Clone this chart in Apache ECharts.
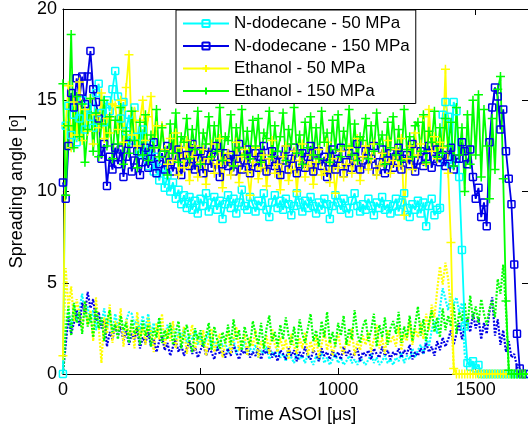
<!DOCTYPE html>
<html>
<head>
<meta charset="utf-8">
<script src="https://cdn.jsdelivr.net/npm/echarts@6/dist/echarts.min.js"></script>
<style>
  html, body { margin: 0; padding: 0; background: #fff; }
  #chart { width: 528px; height: 429px; }
</style>
</head>
<body>
<div id="chart"></div>
<script>
// sample spacing of all curves, in µs (first sample at t = 0)
const sampleStep = 10

const seriesNames = ['N-dodecane - 50 MPa', 'N-dodecane - 150 MPa', 'Ethanol - 50 MPa', 'Ethanol - 150 MPa']
const xTicks = [0, 500, 1000, 1500]
const yTicks = [0, 5, 10, 15, 20]

// spreading angle (solid lines with markers)
const dodecane50 = [
  0, 13.6, 14.7, 13.1, 14.2, 12.7, 14.0, 15.0, 13.4, 14.6,
  14.1, 13.5, 15.4, 15.9, 14.3, 13.8, 15.0, 14.4, 15.6, 16.6,
  15.2, 14.0, 14.9, 13.3, 14.2, 12.8, 14.6, 13.0, 12.1, 13.4,
  12.0, 11.4, 12.6, 11.1, 11.9, 10.6, 11.3, 10.2, 10.9, 10.0,
  10.5, 9.6, 10.1, 9.3, 9.8, 9.1, 9.7, 9.0, 9.5, 8.8,
  9.6, 9.2, 9.9, 8.9, 9.4, 9.7, 9.0, 9.5, 8.5, 9.3,
  9.8, 9.1, 9.6, 8.8, 9.4, 10.1, 9.2, 9.0, 9.7, 9.3,
  8.9, 9.5, 9.2, 9.9, 9.0, 8.6, 9.4, 9.8, 9.1, 9.5,
  9.0, 9.6, 9.3, 8.7, 9.2, 9.9, 9.4, 8.9, 9.5, 9.1,
  9.7, 9.2, 8.8, 9.4, 9.0, 9.6, 9.3, 8.5, 9.2, 9.8,
  9.4, 9.0, 9.6, 9.1, 8.8, 9.5, 9.9, 9.2, 8.9, 9.3,
  9.0, 9.6, 9.2, 8.7, 9.4, 9.1, 9.7, 9.0, 9.3, 8.8,
  9.2, 9.6, 8.9, 9.4, 9.9, 9.1, 8.6, 9.3, 9.0, 9.5,
  8.8, 9.4, 8.1, 9.2, 9.6, 8.7, 9.0, 9.1, 14.2, 14.9,
  14.1, 11.5, 14.9, 14.4, 10.8, 6.8, 2.6, 0.6, 0.4, 0.7,
  0.3, 0.5, 0, 0, 0, 0, 0, 0, 0, 0,
  0, 0, 0, 0, 0, 0, 0, 0, 0
]
const dodecane150 = [
  10.5, 9.6, 12.5, 15.4, 14.6, 16.2, 15.1, 16.3, 14.8, 16.3,
  17.7, 15.6, 14.9, 14.0, 11.8, 12.6, 10.3, 11.9, 11.2, 12.4,
  11.5, 12.3, 10.8, 11.9, 12.6, 11.1, 11.7, 12.2, 10.9, 11.6,
  12.4, 11.3, 11.8, 12.7, 11.0, 11.5, 12.1, 11.2, 12.5, 11.6,
  11.1, 11.9, 12.3, 10.9, 11.6, 12.0, 11.4, 12.6, 11.2, 11.8,
  12.2, 11.0, 11.7, 12.4, 11.3, 11.9, 12.5, 10.8, 11.5, 12.1,
  11.4, 12.0, 11.1, 11.8, 12.6, 11.2, 11.7, 12.3, 11.0, 11.6,
  12.1, 11.3, 11.9, 12.5, 11.1, 11.6, 12.2, 11.4, 12.0, 10.9,
  11.7, 12.3, 11.2, 11.8, 12.4, 11.0, 11.5, 12.1, 11.3, 11.9,
  12.5, 11.1, 11.7, 12.2, 11.4, 11.9, 10.8, 11.6, 12.3, 11.2,
  11.8, 12.4, 11.0, 11.6, 12.1, 11.3, 11.9, 12.6, 11.2, 11.7,
  12.2, 11.4, 11.8, 12.5, 11.1, 11.6, 12.3, 11.0, 11.7, 12.1,
  11.3, 11.9, 12.4, 11.2, 11.8, 12.0, 11.5, 12.6, 11.1, 11.7,
  12.2, 11.4, 11.9, 12.5, 11.3, 11.8, 12.3, 11.6, 12.0, 11.4,
  11.9, 12.4, 11.2, 11.8, 11.8, 12.7, 12.2, 11.5, 12.3, 10.8,
  9.6, 10.2, 8.6, 9.4, 8.1, 12.7, 14.6, 15.7, 15.2, 13.4,
  14.5, 12.2, 10.7, 9.3, 6.0, 2.2, 0.3, 0, 0
]
const ethanol50 = [
  1.0, 13.6, 15.8, 12.4, 14.9, 13.1, 16.0, 12.8, 14.5, 13.3,
  15.1, 12.6, 14.2, 13.5, 15.4, 12.9, 14.0, 13.2, 14.8, 14.7,
  13.4, 15.0, 12.7, 15.7, 17.5, 13.1, 14.4, 12.5, 13.9, 15.0,
  12.8, 14.1, 15.2, 12.4, 13.6, 11.9, 13.6, 12.3, 11.5, 12.9,
  11.7, 13.2, 10.9, 12.4, 11.3, 12.8, 10.6, 11.9, 12.5, 10.8,
  11.6, 12.3, 10.4, 11.8, 12.6, 11.0, 11.5, 12.9, 10.2, 11.7,
  12.1, 10.9, 11.4, 12.7, 10.5, 11.9, 12.3, 11.1, 9.8, 11.6,
  12.4, 10.7, 11.3, 12.0, 10.3, 11.8, 12.8, 11.0, 11.5, 10.1,
  11.9, 12.5, 10.6, 11.2, 12.2, 10.0, 11.7, 12.6, 10.8, 11.4,
  12.0, 10.4, 11.6, 12.3, 10.9, 11.1, 12.7, 10.5, 11.8, 9.9,
  11.3, 12.2, 10.8, 11.5, 12.4, 11.0, 11.7, 12.9, 10.6, 11.9,
  12.5, 11.2, 11.8, 12.6, 10.9, 11.4, 12.1, 11.6, 12.8, 11.0,
  11.7, 12.3, 11.4, 12.9, 8.7, 11.8, 12.5, 11.2, 13.2, 12.0,
  12.6, 14.1, 11.5, 14.5, 12.2, 13.0, 11.8, 12.7, 12.4, 16.7,
  11.0, 7.2, 0.3, 0, 0, 0, 0, 0, 0, 0,
  0, 0, 0, 0, 0, 0, 0, 0, 0, 0,
  0, 0, 0, 0, 0, 0, 0, 0, 0
]
const ethanol150 = [
  15.9, 9.8, 13.6, 18.6, 12.4, 15.2, 13.0, 14.8, 11.6, 13.4,
  15.1, 12.2, 14.3, 11.9, 13.7, 15.0, 12.5, 14.1, 11.8, 13.9,
  12.6, 14.6, 11.5, 13.3, 12.1, 14.4, 12.8, 11.3, 13.8, 12.0,
  14.2, 11.7, 13.1, 12.4, 14.5, 11.9, 13.5, 12.2, 10.9, 13.7,
  12.1, 14.3, 11.6, 13.0, 12.7, 14.0, 11.8, 13.4, 12.3, 14.4,
  11.5, 13.2, 12.6, 14.1, 11.9, 13.6, 12.2, 14.6, 11.7, 13.0,
  12.8, 14.2, 11.4, 13.5, 12.4, 14.5, 12.0, 13.3, 11.8, 13.9,
  12.5, 14.0, 11.6, 13.2, 12.9, 14.4, 11.9, 13.6, 12.2, 13.0,
  14.3, 11.7, 13.4, 12.6, 14.6, 12.1, 13.1, 11.5, 13.8, 12.4,
  14.1, 12.0, 13.5, 11.8, 14.4, 12.7, 13.2, 11.6, 13.9, 12.3,
  14.2, 11.9, 13.3, 12.5, 14.5, 12.0, 13.7, 11.7, 13.0, 12.8,
  14.0, 11.8, 13.6, 12.2, 14.3, 12.6, 13.1, 11.5, 13.8, 12.4,
  14.1, 12.0, 13.4, 11.7, 14.5, 12.3, 13.0, 11.9, 13.6, 13.8,
  12.2, 14.2, 11.6, 13.3, 12.7, 14.4, 11.9, 13.5, 12.1, 14.0,
  12.5, 13.8, 11.4, 14.6, 12.0, 13.5, 10.0, 14.2, 11.5, 15.0,
  12.0, 15.3, 10.8, 14.5, 12.5, 9.6, 14.0, 11.2, 15.6, 16.3,
  10.7, 4.0, 0.2, 0, 0, 0, 0, 0, 0
]

// lower band (dotted lines)
const dodecane50Low = [
  0, 2.1, 3.4, 2.6, 3.8, 2.9, 3.5, 4.4, 3.1, 3.7,
  2.8, 3.5, 2.4, 3.2, 2.7, 3.6, 2.5, 3.0, 2.2, 3.3,
  2.6, 3.1, 2.3, 2.9, 3.4, 3.3, 2.7, 3.0, 2.4, 3.2,
  2.5, 3.3, 2.2, 2.8, 2.1, 3.0, 2.4, 1.9, 2.7, 2.2,
  2.6, 1.8, 2.3, 2.0, 2.5, 1.7, 2.2, 1.9, 2.4, 1.6,
  2.1, 1.5, 1.9, 2.3, 1.4, 1.8, 1.3, 2.0, 1.5, 1.7,
  1.2, 1.6, 1.9, 1.1, 1.5, 1.3, 1.8, 1.0, 1.4, 1.2,
  1.6, 0.9, 1.3, 1.1, 1.5, 0.8, 1.2, 1.0, 1.4, 0.9,
  1.1, 0.7, 1.3, 0.9, 0.6, 1.2, 0.8, 1.0, 0.6, 1.1,
  0.8, 0.5, 1.0, 0.7, 1.2, 0.6, 0.9, 0.5, 0.8, 1.1,
  0.6, 0.9, 0.5, 0.7, 1.0, 0.6, 0.8, 0.5, 0.9, 0.7,
  0.5, 0.8, 1.1, 0.6, 0.9, 0.5, 0.7, 1.0, 0.6, 0.8,
  0.5, 0.9, 0.7, 1.2, 0.6, 1.0, 0.8, 1.4, 0.9, 1.3,
  1.6, 1.1, 2.0, 1.5, 2.4, 2.9, 2.2, 3.6, 4.7, 4.1,
  3.5, 4.4, 3.8, 4.2, 3.4, 3.9, 1.1, 0.6, 0.8, 0.5,
  0.3, 0, 0, 0, 0, 0, 0, 0, 0, 0,
  0, 0, 0, 0, 0, 0, 0, 0, 0
]
const dodecane150Low = [
  0, 1.6, 3.1, 2.2, 2.8, 3.5, 2.6, 3.9, 3.3, 4.5,
  3.6, 4.1, 2.9, 3.4, 2.5, 3.0, 1.5, 2.3, 1.9, 2.7,
  2.1, 2.6, 1.8, 2.4, 1.6, 2.2, 1.9, 2.5, 1.4, 2.0,
  1.7, 2.3, 1.5, 1.9, 1.2, 1.8, 2.1, 1.3, 1.7, 1.0,
  1.5, 1.9, 1.2, 1.6, 1.0, 1.4, 1.8, 1.1, 1.5, 0.9,
  1.3, 1.7, 1.0, 1.4, 1.2, 0.8, 1.5, 1.1, 1.3, 0.9,
  1.4, 1.0, 1.6, 1.2, 0.8, 1.3, 1.1, 1.5, 0.9, 1.2,
  1.0, 1.4, 0.8, 1.3, 1.1, 1.5, 0.9, 1.2, 0.7, 1.3,
  1.1, 0.8, 1.4, 1.0, 1.3, 0.7, 1.2, 0.9, 1.5, 1.0,
  0.8, 1.3, 1.1, 0.7, 1.4, 1.0, 1.2, 0.8, 1.3, 0.9,
  1.2, 0.8, 1.5, 1.0, 1.3, 0.9, 1.1, 1.4, 0.7, 1.2,
  1.0, 1.3, 0.8, 1.4, 1.1, 0.9, 1.5, 1.0, 1.3, 0.8,
  1.2, 1.0, 1.4, 0.9, 1.3, 1.1, 1.6, 0.8, 1.2, 1.0,
  1.4, 1.1, 1.7, 1.2, 1.5, 1.0, 1.8, 1.3, 2.0, 1.5,
  1.9, 2.4, 1.6, 2.2, 2.8, 1.9, 2.6, 3.0, 2.3, 3.3,
  2.5, 3.1, 1.9, 2.8, 2.2, 3.4, 4.2, 2.1, 3.0, 1.6,
  2.4, 1.2, 1.8, 0.9, 1.1, 0.4, 0.1, 0, 0
]
const ethanol50Low = [
  0, 5.8, 3.6, 4.8, 2.9, 4.1, 3.3, 2.4, 3.9, 2.7,
  3.5, 1.8, 4.2, 2.6, 0.6, 3.1, 2.2, 3.8, 1.7, 2.9,
  2.4, 3.6, 1.5, 3.0, 2.1, 2.7, 1.4, 3.4, 2.0, 2.6,
  1.6, 3.1, 2.3, 1.2, 2.8, 1.9, 3.3, 1.5, 2.5, 1.8,
  2.9, 1.4, 2.2, 1.7, 2.6, 1.1, 2.0, 2.7, 1.3, 2.1,
  1.6, 2.4, 1.0, 1.9, 2.5, 1.2, 1.8, 2.2, 0.9, 1.7,
  2.3, 1.1, 1.9, 2.6, 1.3, 1.7, 2.2, 1.0, 2.0, 1.5,
  2.4, 0.9, 1.8, 1.4, 2.1, 1.1, 2.5, 1.6, 1.2, 2.0,
  1.3, 1.9, 0.8, 2.2, 1.5, 1.1, 2.0, 1.4, 2.3, 1.0,
  1.8, 1.2, 2.1, 0.9, 1.6, 2.4, 1.3, 1.9, 1.0, 1.7,
  2.2, 1.4, 1.1, 1.9, 1.5, 2.5, 1.0, 1.8, 1.3, 2.1,
  1.6, 2.3, 1.2, 1.9, 2.7, 1.4, 2.0, 1.1, 2.4, 1.7,
  2.1, 1.5, 2.6, 1.3, 2.2, 1.8, 2.9, 1.6, 2.5, 2.0,
  2.8, 1.9, 3.3, 2.4, 3.8, 3.1, 4.6, 5.9, 4.9, 6.1,
  5.2, 3.4, 0.4, 0, 0, 0, 0, 0, 0, 0,
  0, 0, 0, 0, 0, 0, 0, 0, 0, 0,
  0, 0, 0, 0, 0, 0, 0, 0, 0
]
const ethanol150Low = [
  0, 2.4, 3.7, 2.1, 3.9, 2.8, 3.4, 2.2, 4.0, 2.6,
  3.3, 2.0, 3.6, 2.5, 3.1, 1.8, 2.9, 3.5, 2.3, 2.7,
  1.9, 3.2, 2.4, 2.8, 1.7, 3.0, 2.2, 2.6, 1.6, 2.9,
  2.1, 2.7, 1.5, 2.5, 2.0, 3.1, 1.7, 2.4, 1.9, 2.8,
  1.6, 2.3, 2.9, 1.4, 2.2, 2.7, 1.8, 1.2, 2.5, 1.9,
  2.4, 1.5, 2.1, 2.8, 1.3, 2.6, 1.9, 1.4, 2.3, 1.7,
  2.7, 1.6, 3.0, 1.9, 2.4, 1.3, 2.6, 2.0, 1.5, 2.9,
  2.2, 1.6, 2.8, 1.4, 2.5, 3.2, 1.8, 2.3, 1.5, 2.7,
  1.9, 3.1, 2.1, 1.6, 2.6, 1.4, 3.0, 2.2, 1.7, 2.5,
  3.3, 1.8, 2.4, 1.5, 2.9, 2.0, 3.4, 1.7, 2.3, 1.5,
  2.8, 2.1, 3.2, 1.6, 2.5, 1.9, 3.5, 2.2, 1.7, 2.6,
  3.0, 1.8, 2.4, 3.3, 1.5, 2.7, 2.0, 3.1, 1.6, 2.5,
  2.9, 2.2, 3.4, 1.7, 2.6, 2.0, 3.2, 1.8, 2.7, 3.7,
  2.1, 3.0, 1.8, 2.8, 3.5, 2.3, 3.1, 2.0, 3.6, 2.4,
  3.2, 2.6, 3.8, 2.2, 3.4, 2.9, 3.9, 2.5, 4.3, 3.0,
  3.7, 2.8, 4.1, 3.3, 2.7, 3.6, 4.0, 3.1, 5.2, 4.4,
  6.0, 3.5, 0.3, 0, 0, 0, 0, 0, 0
]

const colors = ['#00ffff', '#0000e6', '#ffff00', '#00ff00']
const mainData = [dodecane50, dodecane150, ethanol50, ethanol150]
const lowData = [dodecane50Low, dodecane150Low, ethanol50Low, ethanol150Low]

// hollow markers: rounded square for dodecane, plus sign for ethanol
const squareMark = 'path://M1,0H9Q10,0 10,1V9Q10,10 9,10H1Q0,10 0,9V1Q0,0 1,0Z'
const plusMark = 'path://M5,0V10M0,5H10'
const markers = [squareMark, squareMark, plusMark, plusMark]
const markerSizes = [7, 7, 9, 9]

const font = 'Liberation Sans, Arial, Helvetica, sans-serif'

function toPoints(values) {
  return values.map((v, i) => [i * sampleStep, v])
}

const chart = echarts.init(document.getElementById('chart'), null, { renderer: 'canvas' })

const series = []
mainData.forEach((values, k) => {
  series.push({
    name: seriesNames[k],
    type: 'line',
    data: toPoints(values),
    symbol: markers[k],
    symbolSize: markerSizes[k],
    showAllSymbol: true,
    lineStyle: { color: colors[k], width: 1.8 },
    itemStyle: { color: 'rgba(0,0,0,0)', borderColor: colors[k], borderWidth: 1.5 },
    emphasis: { disabled: true },
    z: 3
  })
})
lowData.forEach((values, k) => {
  series.push({
    name: seriesNames[k] + ' low',
    type: 'line',
    data: toPoints(values),
    symbol: 'none',
    lineStyle: { color: colors[k], width: 2.2, type: [2, 1.5] },
    emphasis: { disabled: true },
    z: 2
  })
})

const axisLine = { show: true, onZero: false, lineStyle: { color: '#000', width: 1 } }
const tick = { show: true, inside: true, length: 6, lineStyle: { color: '#000', width: 1 } }
const label = { color: '#000', fontSize: 18, fontFamily: font }

chart.setOption({
  animation: false,
  backgroundColor: '#fff',
  grid: { left: 60, top: 6, right: -3.5, bottom: 48.5, containLabel: false },
  legend: {
    data: seriesNames,
    orient: 'vertical',
    left: 176,
    top: 10,
    itemWidth: 46,
    itemHeight: 9,
    itemGap: 5.5,
    padding: [5, 6, 4, 6],
    backgroundColor: '#fff',
    borderColor: '#000',
    borderWidth: 1,
    borderRadius: 0,
    textStyle: { color: '#000', fontSize: 17, fontFamily: font, lineHeight: 17 },
    selectedMode: false
  },
  xAxis: [
    {
      type: 'value',
      min: 0,
      max: 1690,
      interval: 500,
      position: 'bottom',
      axisLine: axisLine,
      axisTick: tick,
      axisLabel: Object.assign({ margin: 7, showMaxLabel: false,
        formatter: v => (xTicks.indexOf(v) >= 0 ? String(v) : '') }, label),
      splitLine: { show: false },
      name: 'Time ASOI [μs]',
      nameLocation: 'middle',
      nameGap: 32,
      nameTextStyle: label
    },
    {
      type: 'value',
      min: 0,
      max: 1690,
      interval: 500,
      position: 'top',
      axisLine: axisLine,
      axisTick: tick,
      axisLabel: { show: false },
      splitLine: { show: false }
    }
  ],
  yAxis: [
    {
      type: 'value',
      min: 0,
      max: 20,
      interval: 5,
      position: 'left',
      axisLine: axisLine,
      axisTick: tick,
      axisLabel: Object.assign({ margin: 6,
        formatter: v => (yTicks.indexOf(v) >= 0 ? String(v) : '') }, label),
      splitLine: { show: false },
      name: 'Spreading angle [{s|o}]',
      nameLocation: 'middle',
      nameGap: 32,
      nameTextStyle: Object.assign({
        rich: { s: { fontSize: 13, fontFamily: font, color: '#000', verticalAlign: 'top', lineHeight: 12 } }
      }, label)
    },
    {
      type: 'value',
      min: 0,
      max: 20,
      interval: 5,
      position: 'right',
      axisLine: axisLine,
      axisTick: tick,
      axisLabel: { show: false },
      splitLine: { show: false }
    }
  ],
  series: series
})
</script>
</body>
</html>
